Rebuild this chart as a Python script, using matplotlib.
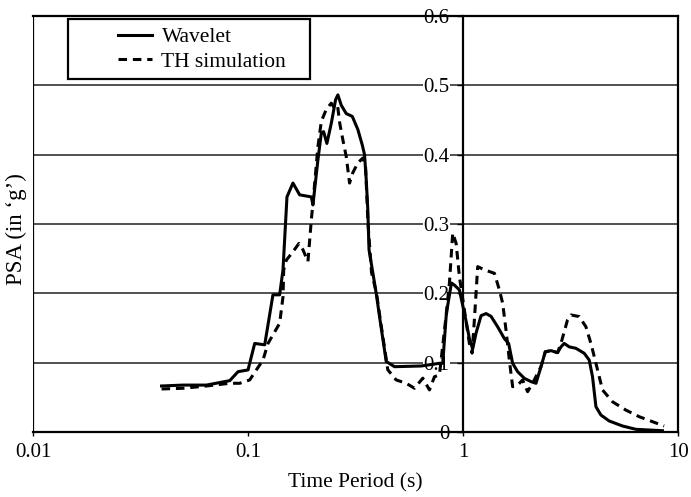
import matplotlib
matplotlib.use("Agg")
import matplotlib.pyplot as plt
from matplotlib.patches import Rectangle

# ---- data ----
wavelet_T = [0.0395, 0.0497, 0.0639, 0.0820, 0.0896, 0.0997, 0.1071, 0.1192, 0.1302, 0.1399,
             0.1450, 0.1513, 0.1613, 0.1733, 0.1964, 0.1998, 0.2107, 0.2186, 0.2240, 0.2320,
             0.2432, 0.2547, 0.2610, 0.2707, 0.2855, 0.3045, 0.3233, 0.3388, 0.3472, 0.3536,
             0.3597, 0.3643, 0.3936, 0.4076, 0.4380, 0.4786, 0.6368, 0.7745, 0.8023, 0.8322,
             0.8465, 0.8806, 0.9091, 0.9592, 1.0304, 1.0674, 1.1057, 1.1466, 1.2098, 1.2760,
             1.3461, 1.4446, 1.5522, 1.6251, 1.6960, 1.7895, 1.9221, 2.0644, 2.1781, 2.2980,
             2.4064, 2.5571, 2.7440, 2.8457, 2.9477, 3.1110, 3.3410, 3.6510, 3.8523, 3.9905,
             4.1384, 4.3652, 4.7712, 5.5003, 6.3474, 8.4372]
wavelet_PSA = [0.0667, 0.068, 0.068, 0.0744, 0.0873, 0.0898, 0.128, 0.126, 0.198, 0.198,
               0.234, 0.339, 0.359, 0.342, 0.339, 0.3275, 0.392, 0.431, 0.433, 0.416,
               0.445, 0.479, 0.486, 0.471, 0.459, 0.455, 0.436, 0.414, 0.400, 0.364,
               0.320, 0.263, 0.200, 0.167, 0.102, 0.0945, 0.0955, 0.0994, 0.0994, 0.167,
               0.183, 0.215, 0.212, 0.205, 0.160, 0.135, 0.120, 0.143, 0.168, 0.171,
               0.167, 0.152, 0.135, 0.128, 0.0994, 0.0873, 0.0778, 0.073, 0.0706, 0.0945,
               0.116, 0.1176, 0.1147, 0.123, 0.128, 0.123, 0.121, 0.1138, 0.104, 0.080,
               0.0369, 0.0249, 0.0163, 0.0091, 0.0043, 0.0023]

th_T = [0.0395, 0.0497, 0.0639, 0.0820, 0.0912, 0.1015, 0.1090, 0.1170, 0.1235, 0.1399,
        0.1450, 0.1461, 0.1503, 0.1613, 0.1720, 0.1795, 0.1894, 0.1964, 0.1998, 0.2107,
        0.2186, 0.2305, 0.2432, 0.2519, 0.2602, 0.2663, 0.2754, 0.2855, 0.2958, 0.3064,
        0.3233, 0.3410, 0.3510, 0.3605, 0.3743, 0.3949, 0.4121, 0.4455, 0.4874, 0.5427,
        0.5929, 0.6480, 0.6961, 0.7341, 0.7745, 0.8262, 0.8619, 0.8930, 0.9262, 0.9592,
        1.0118, 1.0674, 1.0987, 1.1261, 1.1666, 1.2531, 1.3956, 1.4718, 1.5241, 1.5805,
        1.6373, 1.6960, 1.7895, 1.8874, 1.9912, 2.1004, 2.2980, 2.4064, 2.5571, 2.7440,
        2.8457, 3.0543, 3.1677, 3.4612, 3.7178, 3.9228, 4.1384, 4.4412, 4.9423, 5.7028,
        6.5766, 7.5817, 8.5901]
th_PSA = [0.0624, 0.0634, 0.0667, 0.0706, 0.0706, 0.0754, 0.0898, 0.104, 0.128, 0.157,
          0.195, 0.234, 0.248, 0.260, 0.272, 0.263, 0.246, 0.306, 0.330, 0.411,
          0.448, 0.465, 0.474, 0.467, 0.470, 0.445, 0.421, 0.397, 0.359, 0.374,
          0.388, 0.395, 0.383, 0.300, 0.230, 0.200, 0.160, 0.090, 0.0754, 0.0706,
          0.0634, 0.078, 0.061, 0.080, 0.0826, 0.160, 0.215, 0.287, 0.272, 0.224,
          0.176, 0.128, 0.114, 0.162, 0.2386, 0.234, 0.229, 0.205, 0.186, 0.147,
          0.104, 0.0657, 0.068, 0.0754, 0.0585, 0.0706, 0.0945, 0.116, 0.1176, 0.1147,
          0.128, 0.162, 0.169, 0.1667, 0.152, 0.128, 0.0994, 0.061, 0.044, 0.032,
          0.0225, 0.0153, 0.009]

x_ticks = [0.01, 0.1, 1, 10]
x_tick_labels = ["0.01", "0.1", "1", "10"]
y_ticks = [0, 0.1, 0.2, 0.3, 0.4, 0.5, 0.6]
y_tick_labels = ["0", "0.1", "0.2", "0.3", "0.4", "0.5", "0.6"]

plt.rcParams['font.family'] = ['Liberation Serif', 'DejaVu Serif']

W, H = 691, 497
fig = plt.figure(figsize=(W / 100, H / 100), dpi=100)
ax = fig.add_axes([33.3 / W, 1 - 432.3 / H, (678.3 - 33.3) / W, (432.3 - 15.7) / H])
ax.set_xscale('log')
ax.set_xlim(0.01, 10)
ax.set_ylim(0, 0.6)

for yv in y_ticks[1:-1]:
    ax.axhline(yv, color='#222222', lw=1.1, zorder=1)
ax.axvline(0.01, color='black', lw=1.6, zorder=2)

ax.plot(wavelet_T, wavelet_PSA, color='black', lw=2.2, ls='-', label='Wavelet', zorder=4,
        solid_joinstyle='round')
ax.plot(th_T, th_PSA, color='black', lw=2.2, ls=(0, (2.8, 1.9)), label='TH simulation', zorder=3)

ax.spines['left'].set_position(('data', 1))
for s in ['left', 'right', 'top', 'bottom']:
    ax.spines[s].set_linewidth(1.6)
    ax.spines[s].set_zorder(5)

ax.set_xticks(x_ticks)
ax.set_xticklabels(x_tick_labels)
ax.xaxis.set_minor_locator(matplotlib.ticker.NullLocator())
ax.set_yticks(y_ticks)
ax.set_yticklabels(y_tick_labels)
ax.tick_params(axis='x', direction='out', length=3, width=1, labelsize=15, pad=5)
ax.tick_params(axis='y', direction='out', length=4, width=1, labelsize=15, pad=6)
for lab in ax.get_yticklabels():
    lab.set_bbox(dict(facecolor='white', edgecolor='none', pad=0.3))
    lab.set_zorder(6)

fig.text(355.8 / W, 1 - 483 / H, "Time Period (s)", ha='center', va='center', fontsize=15.5)
fig.text(16 / W, 1 - 229 / H, "PSA (in \u2018g\u2019)", ha='center', va='center', rotation=90,
         fontsize=16.5)

# legend box
frame = Rectangle((68 / W, 1 - 79 / H), 242 / W, 60 / H, transform=fig.transFigure,
                  facecolor='white', edgecolor='black', lw=1.6, zorder=8)
fig.add_artist(frame)
leg = ax.legend(loc='center left', bbox_to_anchor=(118 / W, 1 - 49.5 / H),
                bbox_transform=fig.transFigure, frameon=False, fontsize=15.5,
                handlelength=1.6, borderpad=0, labelspacing=0.2, handletextpad=0.42,
                borderaxespad=0)
leg.set_zorder(9)
fig.add_artist(leg)

fig.savefig("out.png", dpi=100)
